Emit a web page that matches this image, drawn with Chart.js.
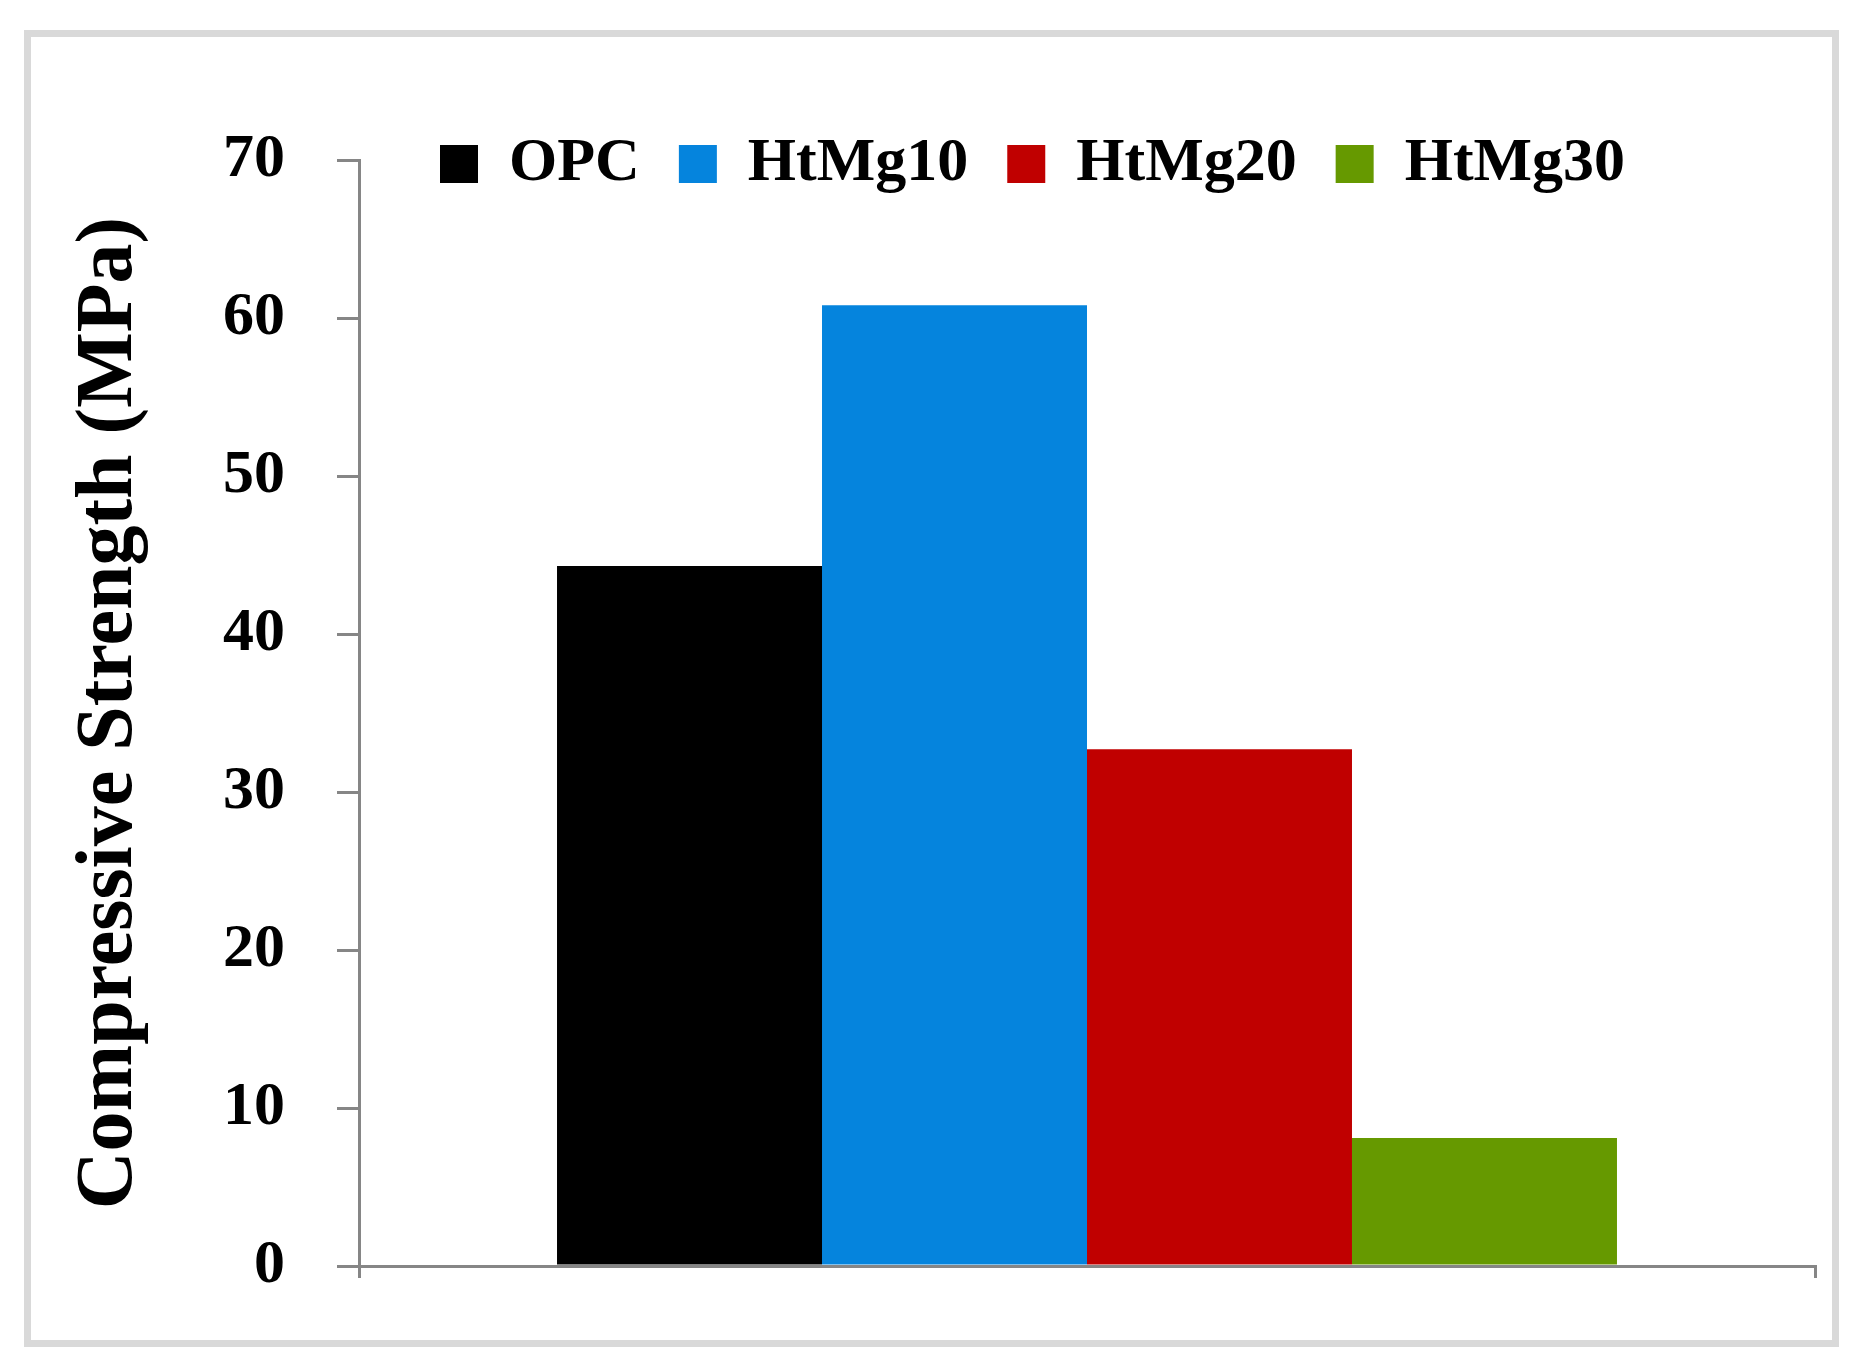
<!DOCTYPE html>
<html>
<head>
<meta charset="utf-8">
<script src="https://cdn.jsdelivr.net/npm/chart.js@4"></script>
<style>
    body { margin: 0; background: #fff; }
    #wrap { position: relative; width: 1864px; height: 1367px; }
    #frame { position: absolute; left: 24px; top: 30px; width: 1801px; height: 1303px; border: 7px solid #d9d9d9; }
    #chart { position: absolute; left: 0; top: 0; }
</style>
</head>
<body>
<div id="wrap">
    <div id="frame"></div>
    <canvas id="chart" width="1864" height="1367"></canvas>
</div>
<script>
    // one group, four mixes
    var categories = [''];
    var seriesNames = ['OPC', 'HtMg10', 'HtMg20', 'HtMg30'];
    var opcValues = [44.3];
    var htmg10Values = [60.8];
    var htmg20Values = [32.7];
    var htmg30Values = [8.1];
    var yTicks = [0, 10, 20, 30, 40, 50, 60, 70];

    var colors = ['#000000', '#0584dd', '#c00000', '#669900'];
    var axisGray = '#868686';
    var serif = '"Liberation Serif", "Times New Roman", serif';

    var allValues = [opcValues, htmg10Values, htmg20Values, htmg30Values];
    var datasets = seriesNames.map(function (name, i) {
        return {
            label: name,
            data: allValues[i],
            backgroundColor: colors[i],
            borderWidth: 0,
            barPercentage: 1,
            categoryPercentage: 0.728
        };
    });

    // legend takes no room and is drawn inside the plot, level with the top tick
    var legendInPlot = {
        id: 'legendInPlot',
        beforeLayout: function (chart) {
            var lg = chart.legend;
            if (!lg || lg._inPlot) return;
            var fit = lg.fit;
            lg.fit = function () {
                fit.call(this);
                this._realHeight = this.height;
                this.height = 0;
            };
            lg._inPlot = true;
        },
        afterLayout: function (chart) {
            var lg = chart.legend;
            if (!lg) return;
            var pad = lg.options.labels.padding;
            var itemH = lg.options.labels.font.size;
            var top = chart.chartArea.top - pad - itemH / 2 + 4;
            lg.top = top;
            lg.bottom = top + lg._realHeight;
            lg.height = lg._realHeight;
            var firstX = (lg.left + pad + lg.right - lg.lineWidths[0]) / 2;
            var dx = 440 - firstX;
            lg.left += dx;
            lg.right += dx;
        }
    };

    var ctx = document.getElementById('chart');
    var strengthChart = new Chart(ctx, {
        type: 'bar',
        data: { labels: categories, datasets: datasets },
        options: {
            responsive: false,
            animation: false,
            layout: { padding: { left: 0, right: 49, top: 160, bottom: 0 } },
            plugins: {
                legend: {
                    position: 'top',
                    align: 'center',
                    labels: {
                        boxWidth: 38,
                        boxHeight: 38,
                        padding: 39,
                        color: '#000',
                        font: { family: serif, size: 62, weight: 'bold' }
                    }
                },
                tooltip: { enabled: false }
            },
            scales: {
                x: {
                    offset: true,
                    grid: { offset: true, drawOnChartArea: false, drawTicks: true, tickLength: 12, color: axisGray, lineWidth: 3 },
                    border: { color: axisGray, width: 3 },
                    ticks: { display: false },
                    afterFit: function (scale) { scale.height = 101; }
                },
                y: {
                    min: 0,
                    max: 70,
                    afterBuildTicks: function (scale) {
                        scale.ticks = yTicks.map(function (v) { return { value: v }; });
                    },
                    grid: { drawOnChartArea: false, drawTicks: true, tickLength: 22, color: axisGray, lineWidth: 3 },
                    border: { color: axisGray, width: 3 },
                    ticks: {
                        padding: 52,
                        color: '#000',
                        font: { family: serif, size: 62, weight: 'bold' }
                    },
                    title: {
                        display: true,
                        text: 'Compressive Strength (MPa)',
                        color: '#000',
                        font: { family: serif, size: 80, weight: 'bold' },
                        padding: { top: 62, bottom: 0 }
                    },
                    afterFit: function (scale) { scale.width = 359; }
                }
            }
        },
        plugins: [legendInPlot]
    });
</script>
</body>
</html>
